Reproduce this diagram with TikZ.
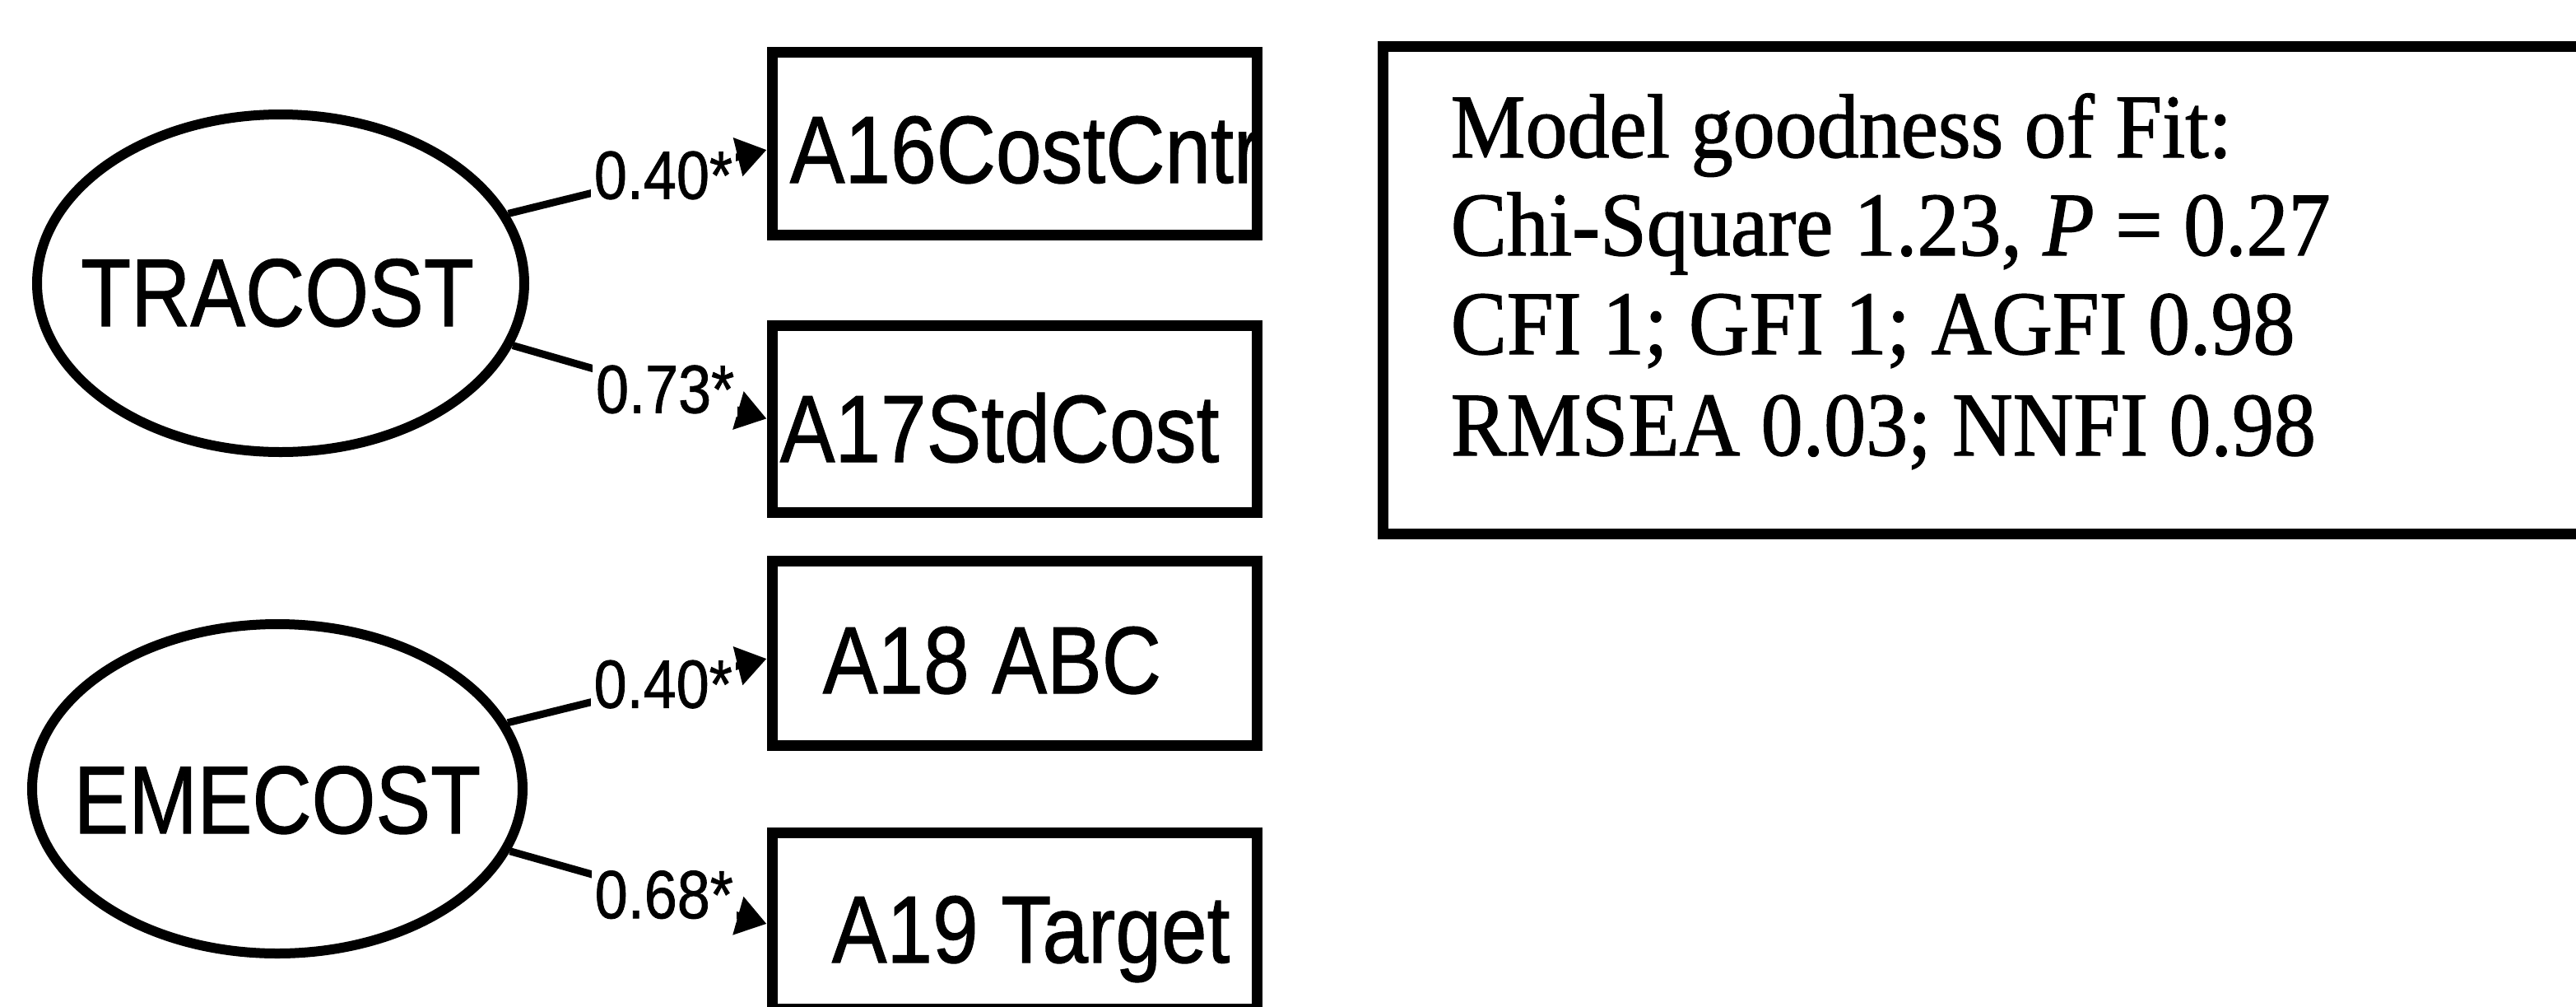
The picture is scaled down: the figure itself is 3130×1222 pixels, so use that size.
\documentclass[tikz,border=0pt]{standalone}
\usepackage{fontspec}
\usepackage{graphicx}
\setmainfont{Liberation Serif}[FakeBold=1.2]
\newfontfamily\arialf{Liberation Sans}[FakeBold=1]
\usetikzlibrary{arrows.meta,shapes.geometric}
% vertically stretched text, as set in the path diagram
\newcommand\stretchy[2]{\scalebox{1}[#1]{#2}}

\begin{document}
\begin{tikzpicture}[x=0.25pt,y=-0.25pt,
  latent/.style={ellipse, draw, line width=3pt, inner sep=0pt},
  latenttext/.style={anchor=base, inner sep=0pt, font=\arialf\fontsize{25pt}{30pt}\selectfont},
  obsbox/.style={rectangle, draw, line width=3.25pt, inner sep=0pt, minimum width=147.25pt},
  boxtext/.style={anchor=base west, inner sep=0pt, font=\arialf\fontsize{25pt}{30pt}\selectfont},
  load/.style={line width=2.25pt, -{Triangle[length=9pt,width=11.5pt]}},
  coef/.style={fill=white, inner sep=1pt, pos=0.6, font=\arialf\fontsize{18pt}{20pt}\selectfont},
  fitline/.style={anchor=base west, inner sep=0pt, font=\fontsize{25.5pt}{30pt}\selectfont}
]
\useasboundingbox (0,0) rectangle (3130,1222);
\clip (0,0) rectangle (3130,1222);

% latent factors
\node[latent, minimum width=148pt, minimum height=102.5pt] (tra) at (341,344) {};
\node[latenttext] (trat) at (337,396) {\stretchy{1.17}{TRACOST}};
\node[latent, minimum width=149pt, minimum height=100pt] (eme) at (337,958) {};
\node[latenttext] (emet) at (337,1012) {\stretchy{1.17}{EMECOST}};

% observed indicators
\node[obsbox, minimum height=55.5pt] (a16) at (1232.5,174) {};
\node[boxtext] (a16t) at (959,222) {\stretchy{1.16}{A16CostCntr}};
\node[obsbox, minimum height=56.75pt] (a17) at (1232.5,508.5) {};
\node[boxtext] (a17t) at (947,561) {\stretchy{1.16}{A17StdCost}};
\node[obsbox, minimum height=56pt] (a18) at (1232.5,793) {};
\node[boxtext] (a18t) at (999,842) {\stretchy{1.16}{A18 ABC}};
\node[obsbox, minimum height=53.5pt] (a19) at (1232.5,1118) {};
\node[boxtext] (a19t) at (1010,1169) {\stretchy{1.16}{A19 Target}};

% factor loadings
\draw[load] (tra.17) -- node[coef] (l16) {\stretchy{1.15}{0.40*}} ([yshift=-2pt]a16.west);
\draw[load] (tra.-15) -- node[coef] (l17) {\stretchy{1.15}{0.73*}} (a17.west);
\draw[load] (eme.16) -- node[coef] (l18) {\stretchy{1.15}{0.40*}} ([yshift=-1.75pt]a18.west);
\draw[load] (eme.-15) -- node[coef] (l19) {\stretchy{1.15}{0.68*}} ([yshift=-1pt]a19.west);

% fit statistics
\node[rectangle, draw, line width=3.25pt, inner sep=0pt,
      minimum width=380pt, minimum height=148pt] (fitbox) at (2440,352) {};
\node[fitline] (fit1) at (1762,191) {\stretchy{1.08}{Model goodness of Fit:}};
\node[fitline] (fit2) at (1762,310) {\stretchy{1.08}{Chi-Square 1.23, \textit{P} = 0.27}};
\node[fitline] (fit3) at (1762,430) {\stretchy{1.08}{CFI 1; GFI 1; AGFI 0.98}};
\node[fitline] (fit4) at (1762,553) {\stretchy{1.08}{RMSEA 0.03; NNFI 0.98}};
\end{tikzpicture}
\end{document}
